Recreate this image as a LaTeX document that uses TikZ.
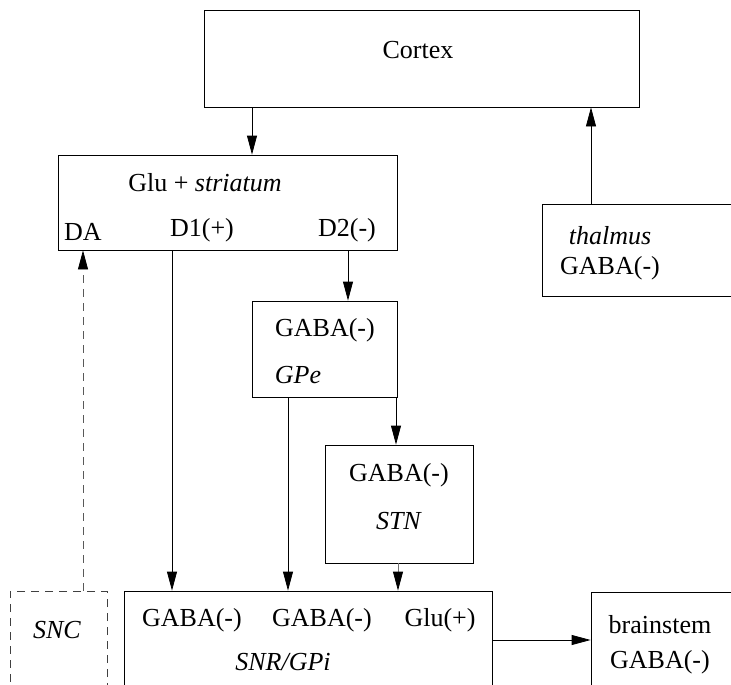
\documentclass[tikz,border=0pt]{standalone}
\usepackage{fontspec}
\setmainfont{Liberation Serif}
\usetikzlibrary{arrows.meta}
\begin{document}
\begin{tikzpicture}[x=1pt,y=-1pt,
  box/.style={draw, line width=0.8pt, rectangle, inner sep=0pt},
  dbox/.style={draw, line width=0.8pt, dashed, dash pattern=on 8pt off 6pt, rectangle, inner sep=0pt, draw=black!75},
  lbl/.style={inner sep=0pt, font=\fontsize{26}{31}\selectfont},
  arr/.style={line width=0.8pt, -{Triangle[length=19pt,width=10pt,color=black]}},
  darr/.style={arr, dashed, dash pattern=on 8pt off 6pt, draw=black!65},
  garr/.style={arr, draw=black!55}]
\clip (0,0) rectangle (731,685);
\fill[white] (0,0) rectangle (731,685);
% boxes
\node[box, minimum width=435pt, minimum height=97pt] (cortex) at (421.5,58.5) {};
\node[box, minimum width=339pt, minimum height=95pt] (striatum) at (227.5,202.5) {};
\node[box, minimum width=228pt, minimum height=92pt] (thal) at (656,250) {};
\node[box, minimum width=145pt, minimum height=96pt] (gpe) at (324.5,349) {};
\node[box, minimum width=148pt, minimum height=118pt] (stn) at (399,504) {};
\node[box, minimum width=368pt, minimum height=129pt] (snr) at (308,655.5) {};
\node[dbox, minimum width=97pt, minimum height=129pt] (snc) at (58.5,655.5) {};
\node[box, minimum width=179pt, minimum height=128pt] (brain) at (680.5,656) {};
% texts
\node[lbl] (tcortex) at (418,50) {Cortex};
\node[lbl] (tglu) at (205,183) {Glu + \textit{striatum}};
\node[lbl] (tda) at (83,232) {DA};
\node[lbl] (td1) at (202,230) {D1(+)};
\node[lbl] (td2) at (347,230) {D2(-)};
\node[lbl] (tthal) at (610,236) {\textit{thalmus}};
\node[lbl] (tthalg) at (610,268) {GABA(-)};
\node[lbl] (tgpeg) at (325,330) {GABA(-)};
\node[lbl] (tgpe) at (298,375) {\textit{GPe}};
\node[lbl] (tstng) at (399,475) {GABA(-)};
\node[lbl] (tstn) at (399,521) {\textit{STN}};
\node[lbl] (tsnr1) at (192,620) {GABA(-)};
\node[lbl] (tsnr2) at (322,620) {GABA(-)};
\node[lbl] (tsnr3) at (440,620) {Glu(+)};
\node[lbl] (tsnr) at (283,662) {\textit{SNR/GPi}};
\node[lbl] (tsnc) at (57,630) {\textit{SNC}};
\node[lbl] (tbrain) at (660,625) {brainstem};
\node[lbl] (tbraing) at (660,662) {GABA(-)};
% x positions
\coordinate (xa) at (252,0);
\coordinate (xb) at (591,0);
\coordinate (xd1) at (172,0);
\coordinate (xd2) at (348,0);
\coordinate (xg1) at (288,0);
\coordinate (xg2) at (396,0);
\coordinate (xs) at (398,0);
\coordinate (xda) at (83,0);
\coordinate (ybr) at (0,640);
% connectors
\draw[arr] (cortex.south -| xa) -- (striatum.north -| xa);
\draw[arr] (thal.north -| xb) -- (cortex.south -| xb);
\draw[arr] (striatum.south -| xd1) -- (snr.north -| xd1);
\draw[arr] (striatum.south -| xd2) -- (gpe.north -| xd2);
\draw[arr] (gpe.south -| xg1) -- (snr.north -| xg1);
\draw[arr] (gpe.south -| xg2) -- (stn.north -| xg2);
\draw[garr] (stn.south -| xs) -- (snr.north -| xs);
\draw[darr] (snc.north -| xda) -- (striatum.south -| xda);
\draw[arr] (snr.east |- ybr) -- (brain.west |- ybr);
\end{tikzpicture}
\end{document}
